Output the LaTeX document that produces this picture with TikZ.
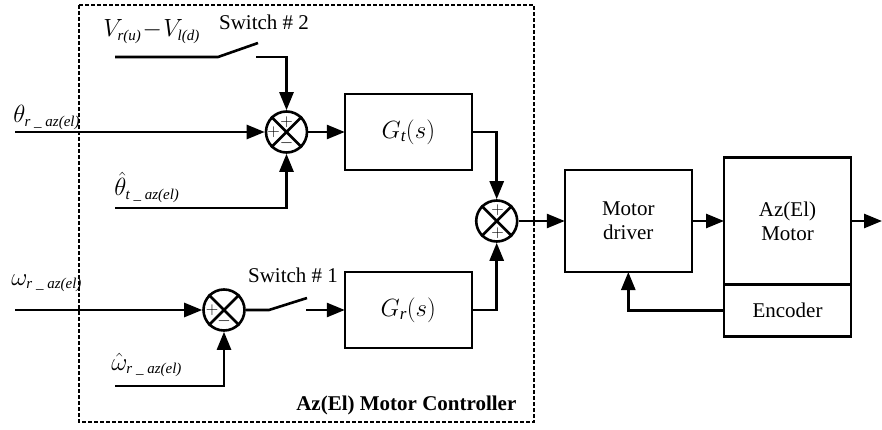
\documentclass[tikz,border=0pt]{standalone}
\usepackage{amsmath}
\usepackage{fontspec}
\setmainfont{Liberation Serif}
\usetikzlibrary{arrows.meta,positioning,calc}
\newcommand{\subtx}[1]{\text{\fontsize{15}{15}\selectfont\itshape #1}}
\newcommand{\subgs}[1]{\text{\fontsize{17}{17}\selectfont\itshape #1}}

\begin{document}
\begin{tikzpicture}[x=1pt, y=-1pt,
  line width=2.6pt,
  >={Triangle[length=18pt,width=14pt]},
  box/.style={rectangle, draw, inner sep=0pt, outer sep=0pt, align=center,
    font=\fontsize{21}{24}\selectfont},
  sum/.style={circle, draw, minimum size=41pt, inner sep=0pt},
  sgn/.style={inner sep=0pt, font=\fontsize{16}{16}\selectfont},
  lbl/.style={inner sep=0pt, anchor=base west, font=\fontsize{26}{28}\selectfont},
  txt/.style={inner sep=0pt, font=\fontsize{21}{24}\selectfont}]
\useasboundingbox (0,0) rectangle (882,430);
% controller frame
\draw[line width=2pt, dash pattern=on 4pt off 2pt] (79,5) rectangle (534,422);
\node[txt, anchor=base west, font=\fontsize{21}{24}\selectfont\bfseries] (ctl) at (295,410) {Az(El) Motor Controller};
% blocks
\node[sum] (sum1) at (286.5,132) {};
\node[sum] (sum2) at (224,310) {};
\node[sum] (sum3) at (496.7,221) {};
\node[box, minimum width=127pt, minimum height=76pt, font=\fontsize{34}{36}\selectfont] (gt) at (408.3,132) {$G_{\subgs{t}}(s)$};
\node[box, minimum width=127pt, minimum height=76pt, font=\fontsize{34}{36}\selectfont] (gr) at (408.3,310) {$G_{\subgs{r}}(s)$};
\node[box, minimum width=127pt, minimum height=102pt] (drv) at (628.3,221) {Motor\\driver};
\node[box, minimum width=127pt, minimum height=127pt] (mot) at (787.5,221) {Az(El)\\Motor};
\node[box, minimum width=127pt, minimum height=52pt, below=0pt of mot] (enc) {Encoder};
\foreach \s in {sum1,sum2,sum3}
  \draw (\s.north west) -- (\s.south east) (\s.north east) -- (\s.south west);
% signs
\node[sgn] (p1a) at ([xshift=-13pt]sum1.center) {$+$};
\node[sgn] (p1b) at ([yshift=10pt]sum1.center) {$+$};
\node[sgn] (m1) at ([yshift=-11pt]sum1.center) {$-$};
\node[sgn] (p2) at ([xshift=-12pt]sum2.center) {$+$};
\node[sgn] (m2) at ([yshift=-11pt]sum2.center) {$-$};
\node[sgn] (p3a) at ([xshift=1pt,yshift=11pt]sum3.center) {$+$};
\node[sgn] (p3b) at ([xshift=1pt,yshift=-12pt]sum3.center) {$+$};
% inputs
\node[lbl] (thr) at (12,123) {$\theta_{\subtx{r \_ az(el)}}$};
\node[lbl] (vrl) at (102,37) {$V_{\subtx{r(u)}}\!-\!V_{\subtx{l(d)}}$};
\node[lbl] (tht) at (113,196) {$\hat{\theta}_{\subtx{t \_ az(el)}}$};
\node[lbl] (omr) at (10,285) {$\omega_{\subtx{r \_ az(el)}}$};
\node[lbl] (omh) at (110,370) {$\hat{\omega}_{\subtx{r \_ az(el)}}$};
\node[txt, anchor=base] (sw2) at (264,30) {Switch \# 2};
\node[txt, anchor=base] (sw1) at (293,282) {Switch \# 1};
\coordinate (inth) at (15,132);
\coordinate (inom) at (15,310);
\coordinate (invr) at (115,57);
\coordinate (inht) at (115,208);
\coordinate (inoh) at (115,386);
\coordinate (sw2a) at (218,57);
\coordinate (sw2c) at (258,43);
\coordinate (sw2b) at (256,57);
\coordinate (sw1a) at (269,310);
\coordinate (sw1c) at (307,298);
\coordinate (sw1b) at (306,310);
\coordinate (out) at (882,221);
% connections
\draw[->] (inth) -- (sum1.west);
\draw (invr) -- (sw2a) -- (sw2c);
\draw[->] (sw2b) -| (sum1.north);
\draw[->] (inht) -| (sum1.south);
\draw[->] (sum1.east) -- (gt.west);
\draw[->] (inom) -- (sum2.west);
\draw[->] (inoh) -| (sum2.south);
\draw (sum2.east) -- (sw1a) -- (sw1c);
\draw[->] (sw1b) -- (gr.west);
\draw[->] (gt.east) -| (sum3.north);
\draw[->] (gr.east) -| (sum3.south);
\draw[->] (sum3.east) -- (drv.west);
\draw[->] (drv.east) -- (mot.west);
\draw[->] (mot.east) -- (out);
\draw[->] (enc.west) -| (drv.south);
\end{tikzpicture}
\end{document}
